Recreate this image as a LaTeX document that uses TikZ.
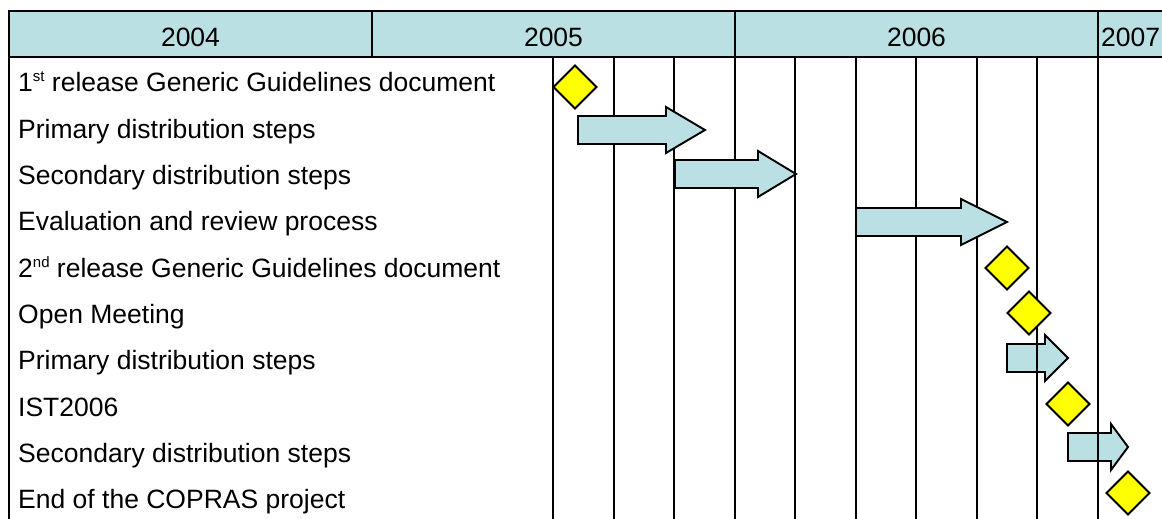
\documentclass[tikz,border=0pt]{standalone}
\usepackage{fontspec}
\setmainfont{Liberation Sans}
\definecolor{hdrblue}{HTML}{BBE0E3}
\definecolor{msyellow}{HTML}{FFFF00}
\begin{document}
\begin{tikzpicture}[x=1pt,y=-1pt,
  gridline/.style={line width=1.9pt,black},
  frameline/.style={line width=2pt,black},
  arrowshape/.style={draw=black,line width=1.9pt,fill=hdrblue,line join=miter},
  milestone/.style={draw=black,line width=1.9pt,fill=msyellow,line join=miter},
  rowlabel/.style={anchor=base west,inner sep=0pt,font=\fontsize{26.5}{30}\selectfont},
  yearlabel/.style={anchor=base,inner sep=0pt,font=\fontsize{26.5}{30}\selectfont}]
\useasboundingbox (0,0) rectangle (1162,519);
\newcommand{\ganttarrow}[5]{% name, left, headstart, tip, cy
  \draw[arrowshape] (#2,#5-14) -- (#3,#5-14) -- (#3,#5-23) -- (#4,#5) -- (#3,#5+23) -- (#3,#5+14) -- (#2,#5+14) -- cycle;
  \coordinate (#1) at (#4,#5);}
\newcommand{\milestonemark}[3]{% name, cx, cy
  \draw[milestone] (#2-21.5,#3) -- (#2,#3-21.5) -- (#2+21.5,#3) -- (#2,#3+21.5) -- cycle;
  \coordinate (#1) at (#2,#3);}
% header
\fill[hdrblue] (9,11) rectangle (1170,57);
\draw[frameline] (1170,11) -- (9,11) -- (9,525);
\draw[frameline] (9,57) -- (1170,57);
\draw[frameline] (372,11) -- (372,57);
\draw[frameline] (735,11) -- (735,57);
\draw[frameline] (1098,11) -- (1098,57);
\node[yearlabel] (y2004) at (190.5,47) {2004};
\node[yearlabel] (y2005) at (553.5,47) {2005};
\node[yearlabel] (y2006) at (916.5,47) {2006};
\node[anchor=base west,inner sep=0pt,font=\fontsize{26.5}{30}\selectfont] (y2007) at (1101,47) {2007};
% arrows below grid
\ganttarrow{a4}{1007}{1045}{1068}{358}
\ganttarrow{a5}{1068}{1111}{1128}{447}
% grid
\foreach \k in {0,...,9} {
  \draw[gridline] (553+60.55*\k,57) -- (553+60.55*\k,525);
}
% arrows above grid
\ganttarrow{a1}{578}{666}{705}{130}
\ganttarrow{a2}{675}{758}{796}{174}
\ganttarrow{a3}{856}{961}{1007}{222}
% milestones
\milestonemark{m1}{575}{87}
\milestonemark{m2}{1007}{268}
\milestonemark{m3}{1029}{313}
\milestonemark{m4}{1068}{404}
\milestonemark{m5}{1128}{493}
% row labels
\node[rowlabel] (r1) at (18,92) {1\raisebox{10pt}{\fontsize{15}{16}\selectfont st} release Generic Guidelines document};
\node[rowlabel] (r2) at (18,138.3) {Primary distribution steps};
\node[rowlabel] (r3) at (18,184.6) {Secondary distribution steps};
\node[rowlabel] (r4) at (18,230.9) {Evaluation and review process};
\node[rowlabel] (r5) at (18,277.2) {2\raisebox{10pt}{\fontsize{15}{16}\selectfont nd} release Generic Guidelines document};
\node[rowlabel] (r6) at (18,323.5) {Open Meeting};
\node[rowlabel] (r7) at (18,369.8) {Primary distribution steps};
\node[rowlabel] (r8) at (18,416.1) {IST2006};
\node[rowlabel] (r9) at (18,462.4) {Secondary distribution steps};
\node[rowlabel] (r10) at (18,508.7) {End of the COPRAS project};
\end{tikzpicture}
\end{document}
